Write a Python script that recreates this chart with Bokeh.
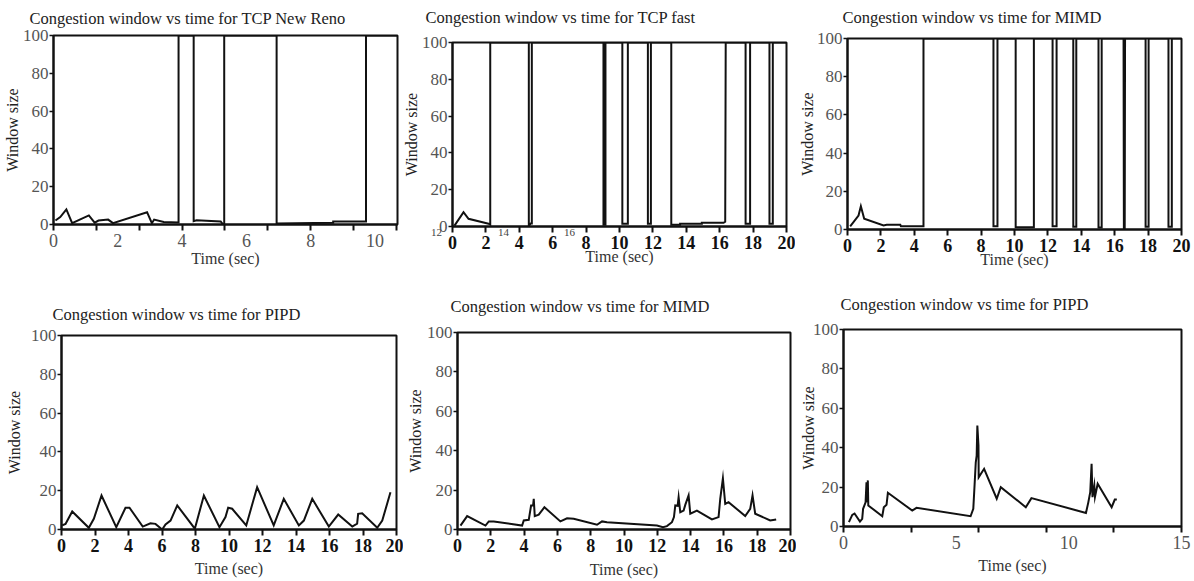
from bokeh.plotting import figure
from bokeh.layouts import row, column
from bokeh.models import Range1d, FixedTicker, Label
from bokeh.embed import file_html
from bokeh.resources import INLINE

SERIF = "Liberation Serif"

# ---------------- data ----------------
# TCP New Reno
reno_t = [0.06, 0.21, 0.40, 0.58, 1.10, 1.28, 1.40, 1.70, 1.85, 2.91, 3.06, 3.13, 3.43, 3.89,
          3.89, 4.36, 4.36, 4.45, 5.20, 5.26, 5.31, 5.31, 6.94, 6.94, 8.70, 8.70, 9.72, 9.72, 10.70]
reno_w = [2.1, 3.9, 8.0, 0.7, 4.8, 1.0, 2.1, 2.6, 0.7, 6.5, 0.7, 2.6, 1.3, 1.1,
          100, 100, 1.8, 2.2, 1.6, 0.3, 0.3, 100, 100, 0.5, 0.9, 1.6, 1.6, 100, 100]

# TCP fast
fast_t = [0.12, 0.66, 0.96, 2.16, 2.26, 2.26,
          4.57, 4.57, 4.68, 4.75, 4.75,
          9.04, 9.04, 9.16, 9.16,
          10.17, 10.17, 10.50, 10.50,
          11.70, 11.70, 11.88, 11.88,
          13.10, 13.10, 13.63, 13.63, 14.93, 14.93, 16.23, 16.33, 16.36,
          17.55, 17.55, 17.82, 17.82,
          18.98, 18.98, 19.18, 19.18, 20.0]
fast_w = [0.5, 7.8, 4.2, 1.5, 1.0, 100,
          100, 0.3, 1.6, 1.6, 100,
          100, 1.0, 1.0, 100,
          100, 1.5, 1.5, 100,
          100, 1.5, 1.5, 100,
          100, 0.9, 0.9, 1.5, 1.5, 2.0, 2.0, 2.6, 100,
          100, 1.5, 1.5, 100,
          100, 1.5, 1.5, 100, 100]

# MIMD (first run)
mimd_t = [0.16, 0.66, 0.80, 1.00, 2.16, 2.35, 3.16, 3.20, 4.55, 4.55,
          8.74, 8.74, 8.98, 8.98,
          10.07, 10.07, 11.16, 11.16,
          12.28, 12.28, 12.52, 12.52,
          13.52, 13.52, 13.70, 13.70,
          15.03, 15.03, 15.22, 15.22,
          16.53, 16.55, 16.60, 16.62,
          17.85, 17.85, 18.03, 18.03,
          19.22, 19.22, 19.42, 19.42, 20.0]
mimd_w = [1.6, 7.3, 12.2, 5.6, 2.1, 2.5, 2.5, 1.7, 1.7, 100,
          100, 1.7, 1.7, 100,
          100, 1.2, 1.2, 100,
          100, 1.7, 1.7, 100,
          100, 1.5, 1.5, 100,
          100, 1.0, 1.0, 100,
          100, 0.5, 0.5, 100,
          100, 1.5, 1.5, 100,
          100, 1.5, 1.5, 100, 100]

# PIPD (first run)
pipd_t = [0.04, 0.24, 0.64, 1.63, 1.93, 2.39, 3.27, 3.82, 4.06, 4.85, 5.31, 5.61, 6.01, 6.21,
          6.51, 6.91, 7.96, 8.50, 9.43, 9.79, 9.95, 10.19, 11.03, 11.68, 12.67, 13.27, 14.17,
          14.47, 14.97, 15.96, 16.52, 17.36, 17.65, 17.71, 17.95, 18.85, 19.15, 19.64]
pipd_w = [2.1, 2.9, 9.3, 0.9, 5.5, 17.5, 1.2, 11.2, 11.2, 1.5, 3.2, 2.9, 0.0, 2.6,
          4.6, 12.4, 0.4, 17.5, 1.2, 6.4, 11.2, 10.7, 2.1, 21.8, 2.1, 15.8, 2.1,
          4.6, 15.8, 1.5, 7.7, 1.5, 3.0, 8.1, 8.4, 0.9, 4.6, 19.2]

# MIMD (second run)
mimd2_t = [0.18, 0.58, 1.68, 1.88, 2.18, 3.88, 3.98, 4.28, 4.42, 4.54, 4.58, 4.64, 4.88, 5.22,
           6.18, 6.58, 6.98, 8.38, 8.68, 8.98, 11.98, 12.34, 12.58, 12.88, 13.00, 13.08, 13.22,
           13.28, 13.38, 13.58, 13.68, 13.88, 13.98, 14.38, 15.28, 15.68, 15.78, 15.94, 16.08,
           16.28, 17.28, 17.58, 17.72, 17.88, 18.78, 19.14]
mimd2_w = [2.0, 6.8, 2.0, 4.1, 4.1, 2.0, 4.6, 4.9, 12.2, 12.2, 15.6, 6.8, 7.5, 11.3,
           4.1, 5.7, 5.5, 2.4, 4.1, 3.7, 2.0, 1.2, 1.7, 3.7, 6.3, 12.2, 12.0,
           16.4, 8.8, 9.6, 12.5, 17.3, 8.0, 9.6, 5.1, 6.3, 15.6, 26.0, 13.0,
           13.9, 6.8, 10.5, 17.3, 8.0, 4.6, 5.1]

# PIPD (second run)
pipd2_t = [0.24, 0.39, 0.49, 0.73, 0.83, 0.87, 0.98, 1.02, 1.05, 1.08, 1.10, 1.72, 1.79, 1.91,
           1.97, 3.05, 3.24, 5.64, 5.76, 5.82, 5.87, 5.91, 5.94, 5.99, 6.00, 6.24, 6.80, 6.98,
           8.09, 8.34, 10.76, 10.86, 10.95, 11.01, 11.05, 11.13, 11.16, 11.28, 11.90, 12.04, 12.13]
pipd2_w = [2.2, 5.9, 6.6, 2.5, 3.9, 9.0, 12.3, 22.5, 12.3, 23.4, 10.7, 5.2, 9.8, 11.0,
           17.1, 8.1, 9.5, 5.2, 9.0, 21.7, 32.6, 36.0, 51.3, 41.1, 25.0, 29.3, 14.1, 20.0,
           9.8, 14.4, 6.9, 12.0, 17.4, 31.8, 14.9, 20.8, 15.0, 21.7, 9.8, 13.7, 13.7]

# axis ticks
y_ticks = [0, 20, 40, 60, 80, 100]
ticks_20 = [0, 2, 4, 6, 8, 10, 12, 14, 16, 18, 20]
reno_labels = [0, 2, 4, 6, 8, 10]
reno_marks = [0, 4 / 3, 8 / 3, 4, 16 / 3, 20 / 3, 8, 28 / 3, 32 / 3]
pipd2_labels = [0, 5, 10, 15]
pipd2_marks = [0, 3, 6, 9, 12, 15]
stray_texts = ["12", "14", "16"]
stray_pos = [-0.96, 3.05, 7.0]


def panel(title, t, w, x_end, width, height, borders, title_dy, title_dx,
          x_labels, x_marks=None, bold_x=False, ylab_standoff=0, xlab_standoff=0):
    left, right, top, bottom = borders
    p = figure(width=width, height=height, output_backend="svg", toolbar_location=None,
               x_range=Range1d(0, x_end), y_range=Range1d(0, 100),
               min_border_left=left, min_border_right=right,
               min_border_top=top, min_border_bottom=bottom,
               background_fill_color="white", border_fill_color="white")
    p.line(t, w, line_color="#111111", line_width=2, line_join="miter")

    # panel heading, anchored at the top-left corner of the frame
    p.add_layout(Label(x=0, y=100, x_offset=title_dx, y_offset=title_dy, text=title,
                       text_font=SERIF, text_font_size="16.5px", text_color="#222222",
                       text_align="left", text_baseline="alphabetic"), "above")

    p.xgrid.visible = False
    p.ygrid.visible = False
    p.outline_line_color = "#111111"
    p.outline_line_width = 2

    # x axis
    xa = p.xaxis[0]
    if x_marks is None:
        xa.ticker = FixedTicker(ticks=x_labels, minor_ticks=[])
        xa.major_tick_out = 6
    else:
        xa.ticker = FixedTicker(ticks=x_labels, minor_ticks=x_marks)
        xa.major_tick_out = 0
        xa.minor_tick_out = 6
        xa.minor_tick_in = 0
        xa.minor_tick_line_color = "#111111"
        xa.minor_tick_line_width = 2
    xa.major_tick_in = 0
    xa.major_tick_line_color = "#111111"
    xa.major_tick_line_width = 2
    xa.axis_line_color = "#111111"
    xa.axis_line_width = 2
    xa.major_label_text_font = SERIF
    xa.major_label_text_font_size = "18px"
    if bold_x:
        xa.major_label_text_font_style = "bold"
        xa.major_label_text_color = "#111111"
    else:
        xa.major_label_text_font_style = "normal"
        xa.major_label_text_color = "#555555"
    xa.major_label_standoff = 3
    xa.axis_label = "Time (sec)"
    xa.axis_label_text_font = SERIF
    xa.axis_label_text_font_style = "normal"
    xa.axis_label_text_font_size = "16px"
    xa.axis_label_text_color = "#333333"
    xa.axis_label_standoff = xlab_standoff

    # y axis
    ya = p.yaxis[0]
    ya.ticker = FixedTicker(ticks=y_ticks, minor_ticks=[])
    ya.major_tick_out = 4
    ya.major_tick_in = 0
    ya.major_tick_line_color = "#111111"
    ya.major_tick_line_width = 1.5
    ya.axis_line_color = "#111111"
    ya.axis_line_width = 2
    ya.major_label_text_font = SERIF
    ya.major_label_text_font_size = "17px"
    ya.major_label_text_color = "#555555"
    ya.major_label_standoff = 1
    ya.axis_label = "Window size"
    ya.axis_label_text_font = SERIF
    ya.axis_label_text_font_style = "normal"
    ya.axis_label_text_font_size = "16px"
    ya.axis_label_text_color = "#222222"
    ya.axis_label_standoff = ylab_standoff
    return p


p1 = panel("Congestion window vs time for TCP New Reno", reno_t, reno_w, 10.7,
           399, 290, (53, 2, 35, 66), 17, -24, reno_labels, x_marks=reno_marks,
           ylab_standoff=-1, xlab_standoff=0)
p2 = panel("Congestion window vs time for TCP fast", fast_t, fast_w, 20,
           396, 290, (53, 9, 42, 64), 25, -27, ticks_20, bold_x=True,
           ylab_standoff=-1, xlab_standoff=-4)
for txt, xpos in zip(stray_texts, stray_pos):
    p2.add_layout(Label(x=xpos, y=-3.3, text=txt, text_font=SERIF, text_font_size="11px",
                        text_color="#444444", text_align="center", text_baseline="middle"),
                  "below")
p3 = panel("Congestion window vs time for MIMD", mimd_t, mimd_w, 20,
           399, 290, (52, 13, 38, 61), 21, -5, ticks_20, bold_x=True,
           ylab_standoff=-2, xlab_standoff=-4)
p4 = panel("Congestion window vs time for PIPD", pipd_t, pipd_w, 20,
           403, 291, (61, 7, 45, 52), 21, -9, ticks_20, bold_x=True,
           ylab_standoff=5, xlab_standoff=5)
p5 = panel("Congestion window vs time for MIMD", mimd2_t, mimd2_w, 20,
           393, 291, (54, 6, 42, 52), 26, -7, ticks_20, bold_x=True,
           ylab_standoff=0, xlab_standoff=6)
p6 = panel("Congestion window vs time for PIPD", pipd2_t, pipd2_w, 15,
           398, 291, (47, 13, 39, 55), 25, -3, pipd2_labels, x_marks=pipd2_marks,
           ylab_standoff=-7, xlab_standoff=5)

# each panel sits in its own column so frames keep their own borders
layout = column(row(column(p1), column(p2), column(p3)),
                row(column(p4), column(p5), column(p6)))
open("out.html", "w").write(file_html(layout, INLINE))
